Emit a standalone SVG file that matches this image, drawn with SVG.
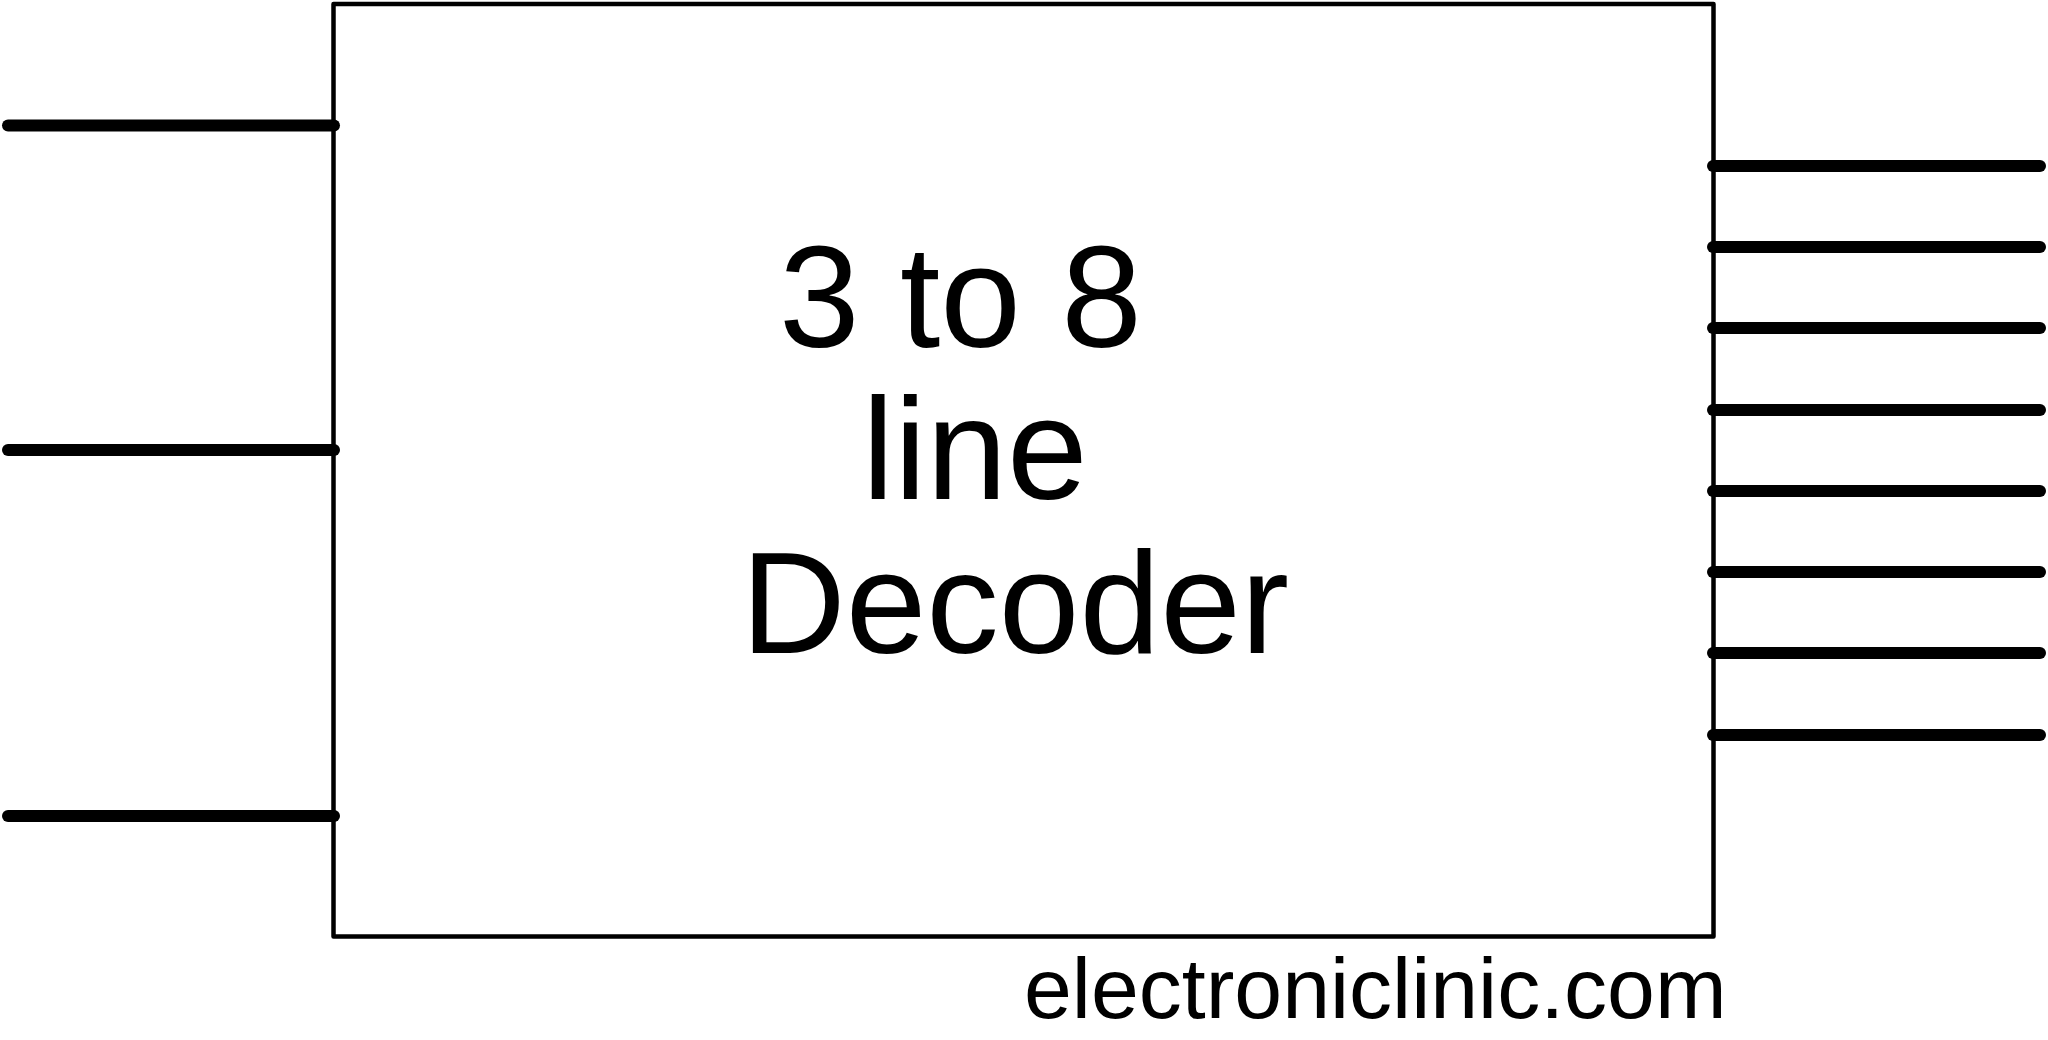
<svg xmlns="http://www.w3.org/2000/svg" width="2048" height="1040" viewBox="0 0 2048 1040">
<style>
.box{fill:none;stroke:#000;stroke-width:4.5;stroke-linejoin:round}
.pin{stroke:#000;stroke-width:12;stroke-linecap:round}
.lbl{font-family:"Liberation Sans",Arial,sans-serif;font-size:145px;fill:#000}
.wm{font-family:"Liberation Sans",Arial,sans-serif;font-size:86px;fill:#000}
</style>
<rect width="2048" height="1040" fill="#fff"/>
<g id="decoder">
<rect class="box" x="333.5" y="4" width="1380" height="932.5"/>
<text class="lbl" x="779" y="347">3 to 8</text>
<text class="lbl" x="862" y="499">line</text>
<text class="lbl" x="741" y="653">Decoder</text>
</g>
<g id="connectors">
<line class="pin" x1="8" y1="125.5" x2="334" y2="125.5"/>
<line class="pin" x1="8" y1="450" x2="334" y2="450"/>
<line class="pin" x1="8" y1="816" x2="334" y2="816"/>
<line class="pin" x1="1713" y1="166" x2="2040" y2="166"/>
<line class="pin" x1="1713" y1="247" x2="2040" y2="247"/>
<line class="pin" x1="1713" y1="328" x2="2040" y2="328"/>
<line class="pin" x1="1713" y1="410" x2="2040" y2="410"/>
<line class="pin" x1="1713" y1="491" x2="2040" y2="491"/>
<line class="pin" x1="1713" y1="572" x2="2040" y2="572"/>
<line class="pin" x1="1713" y1="653" x2="2040" y2="653"/>
<line class="pin" x1="1713" y1="735" x2="2040" y2="735"/>
</g>
<text class="wm" x="1024" y="1018">electroniclinic.com</text>
</svg>
